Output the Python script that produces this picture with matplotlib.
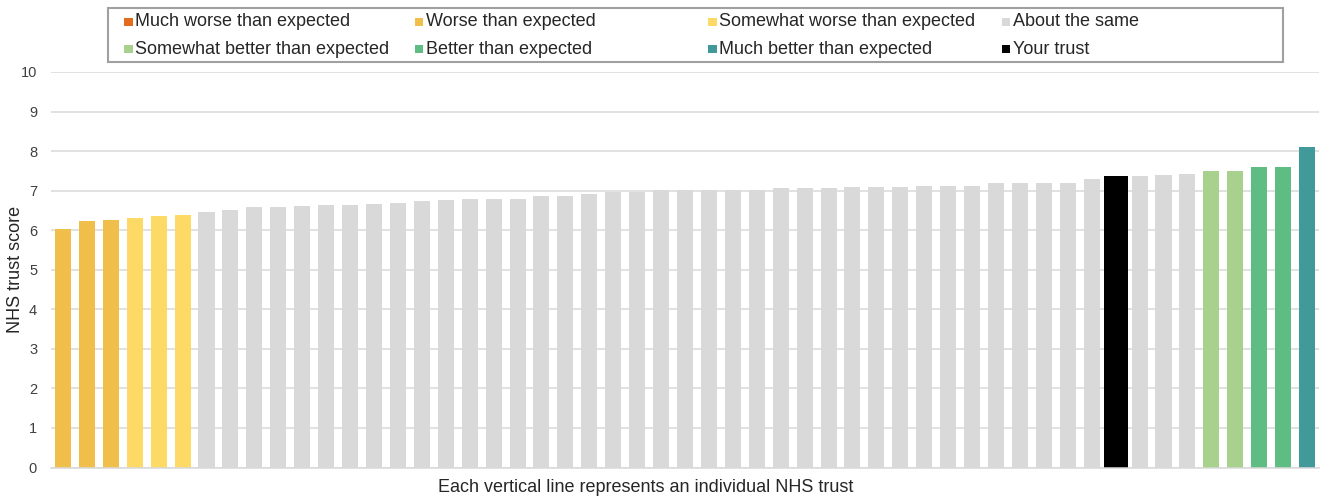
import matplotlib
matplotlib.use("Agg")
import matplotlib.pyplot as plt
from matplotlib.patches import Rectangle

plt.rcParams['font.family'] = ['Liberation Sans', 'DejaVu Sans']

# Trust scores, sorted ascending
scores = [6.02, 6.22, 6.26, 6.32, 6.35, 6.38, 6.45, 6.51, 6.58, 6.58,
          6.62, 6.64, 6.64, 6.67, 6.70, 6.74, 6.77, 6.80, 6.80, 6.80,
          6.87, 6.87, 6.91, 6.96, 6.96, 7.01, 7.01, 7.01, 7.01, 7.01,
          7.06, 7.06, 7.06, 7.09, 7.10, 7.10, 7.13, 7.13, 7.13, 7.20,
          7.20, 7.20, 7.20, 7.29, 7.36, 7.36, 7.39, 7.43, 7.49, 7.49,
          7.59, 7.59, 8.11]

# Performance band of each trust
bands = (["Worse than expected"] * 3
         + ["Somewhat worse than expected"] * 3
         + ["About the same"] * 38
         + ["Your trust"]
         + ["About the same"] * 3
         + ["Somewhat better than expected"] * 2
         + ["Better than expected"] * 2
         + ["Much better than expected"])

legend_labels = ["Much worse than expected", "Worse than expected",
                 "Somewhat worse than expected", "About the same",
                 "Somewhat better than expected", "Better than expected",
                 "Much better than expected", "Your trust"]

band_colors = {
    "Much worse than expected": "#E36C1E",
    "Worse than expected": "#F0BE4B",
    "Somewhat worse than expected": "#FDD966",
    "About the same": "#D9D9D9",
    "Somewhat better than expected": "#A9D18E",
    "Better than expected": "#5FBD84",
    "Much better than expected": "#41999A",
    "Your trust": "#000000",
}

W, H = 1320, 498
fig = plt.figure(figsize=(W / 100, H / 100), dpi=100)
ax = fig.add_axes([51 / W, 1 - 467.5 / H, (1319 - 51) / W, (467.5 - 72) / H])

x = list(range(len(scores)))
colors = [band_colors[b] for b in bands]
widths = [1.0 if b == "Your trust" else 0.67 for b in bands]
ax.bar(x, scores, width=widths, color=colors, zorder=2, linewidth=0)

ax.set_xlim(-0.5, len(scores) - 0.5)
ax.set_ylim(0, 10)
ax.set_yticks(range(0, 11))
ax.set_xticks([])
ax.grid(axis='y', color='#D9D9D9', linewidth=1.1, zorder=0)
ax.set_axisbelow(True)
for side in ['left', 'right', 'top']:
    ax.spines[side].set_visible(False)
ax.spines['bottom'].set_color('#D9D9D9')
ax.spines['bottom'].set_linewidth(1.1)
ax.tick_params(axis='y', length=0, pad=10, labelsize=10.5, labelcolor='#404040')

ax.set_ylabel("NHS trust score", fontsize=13, color='#262626')
ax.yaxis.set_label_coords(-27 / (1319 - 51), 0.5)

fig.text(646 / W, 1 - 487 / H, "Each vertical line represents an individual NHS trust",
         ha='center', va='center', fontsize=13, color='#262626')

# Legend box with four equal-width columns
def fx(px):
    return px / W

def fy(py):
    return 1 - py / H

fig.patches.append(Rectangle((fx(108), fy(62)), fx(1283) - fx(108), fy(8) - fy(62),
                             transform=fig.transFigure, facecolor='white',
                             edgecolor='#A0A0A0', linewidth=1.5))
col_x = [124, 415, 708, 1002]
row_y = [22, 49]
for i, lab in enumerate(legend_labels):
    r, c = divmod(i, 4)
    mx, my = col_x[c], row_y[r]
    fig.patches.append(Rectangle((fx(mx), fy(my + 4.5)), 8.5 / W, 8.5 / H,
                                 transform=fig.transFigure,
                                 facecolor=band_colors[lab], linewidth=0))
    fig.text(fx(mx + 11), fy(my), lab, ha='left', va='center',
             fontsize=13, color='#262626')

fig.savefig("out.png", dpi=100)
